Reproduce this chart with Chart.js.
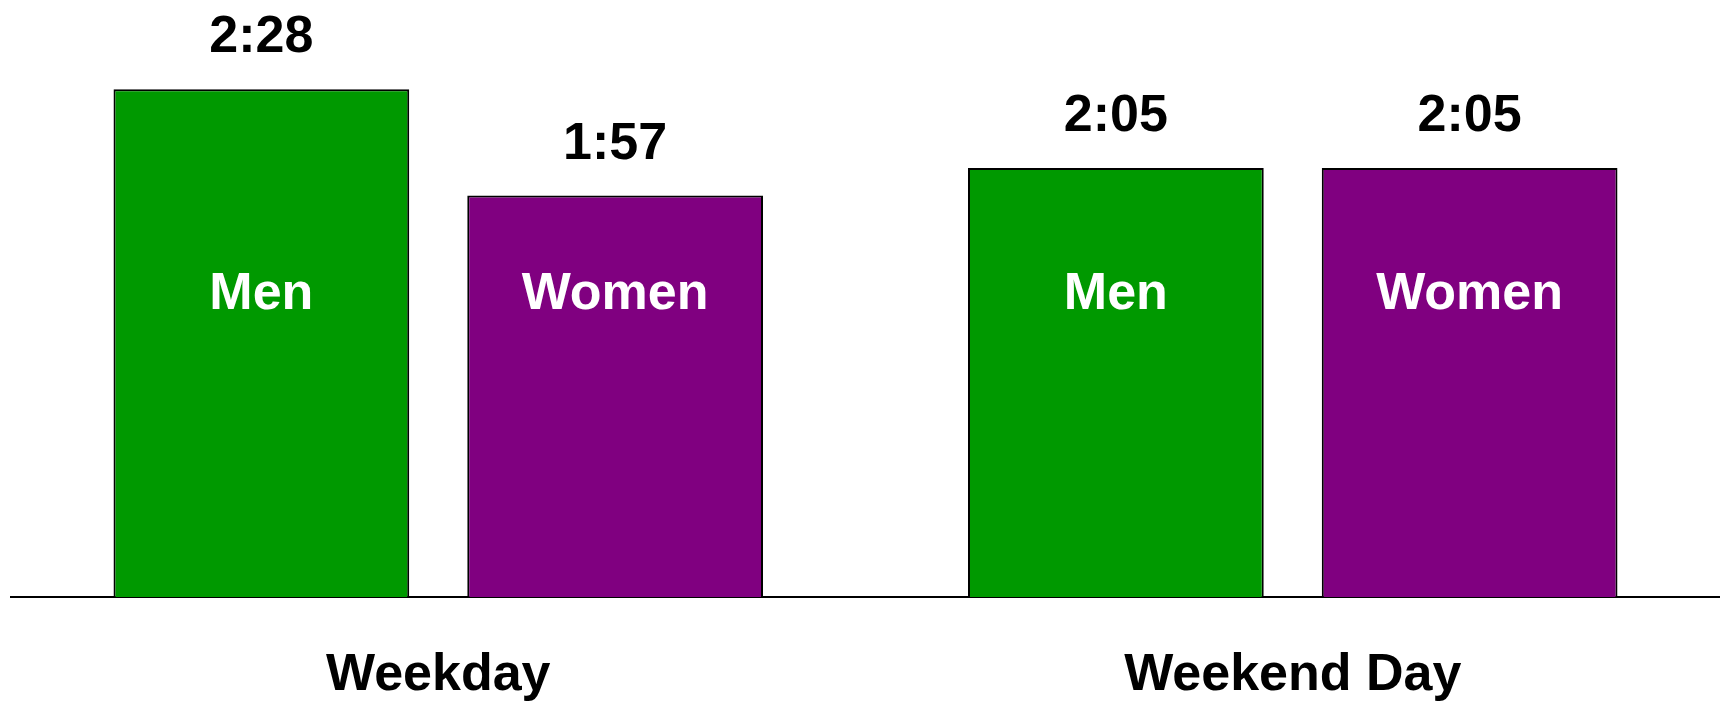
<!DOCTYPE html>
<html>
<head>
<meta charset="utf-8">
<script src="https://cdn.jsdelivr.net/npm/chart.js@4"></script>
<style>
  body { margin: 0; background: #fff; }
  #wrap { width: 1720px; height: 702px; position: relative; }
</style>
</head>
<body>
<div id="wrap"><canvas id="timeChart"></canvas></div>
<script>
// minutes per day
const categories = ['Weekday', 'Weekend Day'];
const seriesNames = ['Men', 'Women'];
const menMinutes = [148, 125];
const womenMinutes = [117, 125];

function toHours(m) {
    const h = Math.floor(m / 60);
    const mm = m % 60;
    return h + ':' + (mm < 10 ? '0' : '') + mm;
}

const labelFont = 'bold 52px "Liberation Sans", Arial, sans-serif';

const barTextPlugin = {
    id: 'barText',
    afterDatasetsDraw: function(chart) {
        const ctx = chart.ctx;
        const yScale = chart.scales.y;
        ctx.save();
        ctx.font = labelFont;
        ctx.textAlign = 'center';
        ctx.textBaseline = 'alphabetic';
        chart.data.datasets.forEach((dataset, i) => {
            const meta = chart.getDatasetMeta(i);
            meta.data.forEach((bar, index) => {
                // value above the bar
                ctx.fillStyle = '#000';
                ctx.fillText(toHours(dataset.data[index]), bar.x, bar.y - 37);
                // series name inside the bar, same height for all bars
                ctx.fillStyle = '#fff';
                ctx.fillText(dataset.label, bar.x, yScale.getPixelForValue(84));
            });
        });
        ctx.restore();
    }
};

const chart = new Chart(document.getElementById('timeChart').getContext('2d'), {
    type: 'bar',
    data: {
        labels: categories,
        datasets: [{
            label: seriesNames[0],
            data: menMinutes,
            backgroundColor: '#009900',
            borderColor: '#000',
            borderWidth: 2,
            categoryPercentage: 0.828,
            barPercentage: 0.836
        }, {
            label: seriesNames[1],
            data: womenMinutes,
            backgroundColor: '#800080',
            borderColor: '#000',
            borderWidth: 2,
            categoryPercentage: 0.828,
            barPercentage: 0.836
        }]
    },
    options: {
        responsive: true,
        maintainAspectRatio: false,
        animation: false,
        layout: {
            padding: { left: 11, right: 0, top: 0, bottom: -53 }
        },
        scales: {
            y: {
                display: false,
                min: 0,
                max: 174
            },
            x: {
                grid: { display: false, drawTicks: false },
                border: { display: true, color: '#000', width: 2 },
                ticks: {
                    color: '#000',
                    padding: 53,
                    font: { family: '"Liberation Sans", Arial, sans-serif', size: 52, weight: 'bold', lineHeight: 1 }
                }
            }
        },
        plugins: {
            legend: { display: false },
            tooltip: { enabled: false }
        }
    },
    plugins: [barTextPlugin]
});
</script>
</body>
</html>
